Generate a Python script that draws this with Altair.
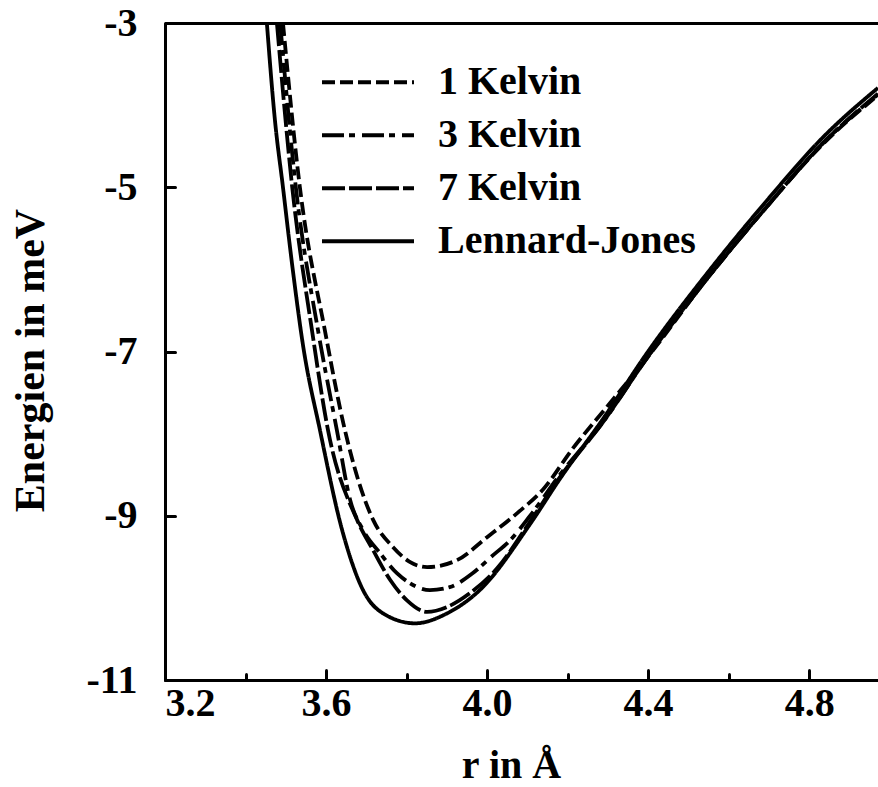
import altair as alt
import pandas as pd

# ---------------- data ----------------
series_names = ["1 Kelvin", "3 Kelvin", "7 Kelvin", "Lennard-Jones"]

r_1k = [3.493, 3.535, 3.597, 3.647, 3.680, 3.717, 3.766, 3.809, 3.851, 3.925,
        4.000, 4.075, 4.139, 4.213, 4.300, 4.397, 4.547, 4.696, 4.835, 4.971]
e_1k = [-3.00, -5.00, -6.74, -7.96, -8.566, -9.05, -9.38, -9.565, -9.626, -9.541,
        -9.261, -8.968, -8.68, -8.18, -7.66, -7.08, -6.11, -5.23, -4.47, -3.88]

r_3k = [3.486, 3.525, 3.580, 3.627, 3.660, 3.692, 3.734, 3.776, 3.808, 3.858,
        3.907, 3.964, 4.015, 4.057, 4.107, 4.181, 4.288, 4.397, 4.547, 4.696,
        4.835, 4.971]
e_3k = [-3.00, -5.00, -6.74, -7.96, -8.81, -9.175, -9.455, -9.70, -9.82, -9.906,
        -9.87, -9.70, -9.48, -9.30, -9.00, -8.50, -7.86, -7.08, -6.11, -5.23,
        -4.46, -3.87]

r_7k = [3.478, 3.516, 3.565, 3.605, 3.677, 3.717, 3.759, 3.801, 3.851, 3.901,
        3.958, 4.025, 4.107, 4.181, 4.288, 4.397, 4.547, 4.696, 4.835, 4.971]
e_7k = [-3.00, -5.00, -6.74, -7.96, -9.05, -9.42, -9.78, -10.03, -10.17, -10.11,
        -9.94, -9.64, -9.07, -8.53, -7.86, -7.08, -6.11, -5.23, -4.46, -3.86]

r_lj = [3.453, 3.473, 3.493, 3.516, 3.543, 3.585, 3.640, 3.692, 3.742, 3.821,
        3.900, 3.983, 4.107, 4.181, 4.288, 4.397, 4.547, 4.696, 4.835, 4.971]
e_lj = [-3.00, -4.18, -5.00, -5.95, -6.93, -7.96, -9.175, -9.906, -10.19, -10.31,
        -10.19, -9.90, -9.10, -8.55, -7.82, -7.02, -6.045, -5.156, -4.389, -3.79]

x_ticks_major = [3.2, 3.6, 4.0, 4.4, 4.8]
x_ticks_minor = [3.4, 3.8, 4.2, 4.6]
y_ticks = [-11, -9, -7, -5, -3]
x_domain = [3.2, 4.971]
y_domain = [-11, -3]

x_title = "r in Å"
y_title = "Energien in meV"

rows = []
for name, rs, es in zip(series_names, [r_1k, r_3k, r_7k, r_lj], [e_1k, e_3k, e_7k, e_lj]):
    for r, e in zip(rs, es):
        rows.append({"r": r, "E": e, "series": name})
df = pd.DataFrame(rows)

# ---------------- styling ----------------
FONT = "Liberation Serif"
FS = 40
LW = 3.8
AXW = 3

xscale = alt.Scale(domain=x_domain, nice=False, zero=False)
yscale = alt.Scale(domain=y_domain, nice=False, zero=False)
dash_scale = alt.Scale(domain=series_names,
                       range=[[13, 5], [22, 5, 6, 7], [23, 4], [1, 0]])

label_style = dict(labelFont=FONT, labelFontSize=FS, labelFontWeight="bold",
                   labelColor="black")
title_style = dict(titleFont=FONT, titleFontWeight="bold", titleColor="black")

lines = alt.Chart(df).mark_line(
    color="black", strokeWidth=LW, interpolate="monotone", clip=True
).encode(
    x=alt.X("r:Q", scale=xscale,
            axis=alt.Axis(orient="bottom", values=x_ticks_major, format=".1f",
                          ticks=False, tickSize=0, labelPadding=3, grid=False,
                          domainWidth=AXW, domainColor="black",
                          title=x_title, titleX=346, titleY=97, titleFontSize=FS,
                          titleBaseline="alphabetic", titleAlign="center",
                          **label_style, **title_style)),
    y=alt.Y("E:Q", scale=yscale,
            axis=alt.Axis(orient="left", values=y_ticks, labelExpr="'' + datum.value",
                          ticks=False, tickSize=0, labelPadding=28, grid=False,
                          domainWidth=AXW, domainColor="black",
                          title=y_title, titleX=-122, titleY=337, titleAngle=270,
                          titleFontSize=42,
                          titleBaseline="alphabetic", titleAlign="center",
                          **label_style, **title_style)),
    strokeDash=alt.StrokeDash("series:N", scale=dash_scale, sort=series_names,
                              legend=alt.Legend(title=None, orient="none",
                                                legendX=155, legendY=33,
                                                symbolType="stroke", symbolSize=8464,
                                                symbolStrokeWidth=LW,
                                                symbolStrokeColor="black",
                                                clipHeight=52.5,
                                                labelOffset=22, rowPadding=0,
                                                padding=0, labelLimit=0,
                                                **label_style)),
)

# inward major ticks (x and y)
ticks_major = alt.Chart(df).mark_point(opacity=0).encode(
    x=alt.X("r:Q", scale=xscale,
            axis=alt.Axis(orient="bottom", offset=-10, values=x_ticks_major,
                          tickSize=10, tickWidth=AXW, tickColor="black",
                          tickCap="round", labels=False, domain=False,
                          grid=False, title=None)),
    y=alt.Y("E:Q", scale=yscale,
            axis=alt.Axis(orient="left", offset=-10, values=y_ticks,
                          tickSize=10, tickWidth=AXW, tickColor="black",
                          tickCap="round", labels=False, domain=False,
                          grid=False, title=None)),
)

# inward minor ticks on x
ticks_minor = alt.Chart(df).mark_point(opacity=0).encode(
    x=alt.X("r:Q", scale=xscale,
            axis=alt.Axis(orient="bottom", offset=-6, values=x_ticks_minor,
                          tickSize=6, tickWidth=AXW, tickColor="black",
                          tickCap="round", labels=False, domain=False,
                          grid=False, title=None)),
    y=alt.Y("E:Q", scale=yscale, axis=None),
)

# top frame line
top_frame = alt.Chart(df).mark_point(opacity=0).encode(
    x=alt.X("r:Q", scale=xscale,
            axis=alt.Axis(orient="top", ticks=False, labels=False, grid=False,
                          domainWidth=AXW, domainColor="black", title=None)),
    y=alt.Y("E:Q", scale=yscale, axis=None),
)

chart = alt.layer(lines, ticks_major, ticks_minor, top_frame).resolve_axis(
    x="independent", y="independent"
).properties(
    width=713, height=657,
    autosize=alt.AutoSizeParams(type="none"),
    padding={"left": 165, "top": 23, "right": 0, "bottom": 107},
    background="white",
).configure_view(stroke=None)

chart.save("out.html", embed_options={"renderer": "svg", "actions": False})
